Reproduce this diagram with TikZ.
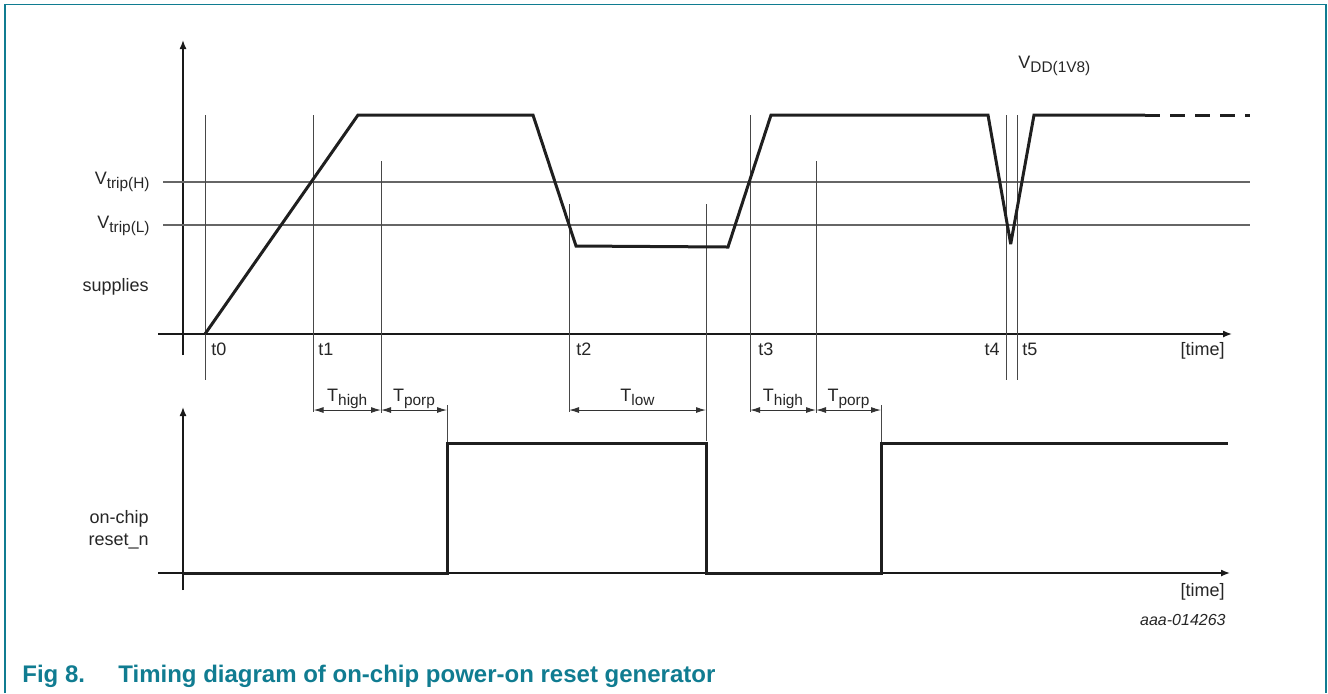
\documentclass[tikz,border=0pt]{standalone}
\usepackage{fontspec}
\setmainfont{Liberation Sans}
\usepackage{xcolor}
\usetikzlibrary{arrows.meta, positioning, calc}
\definecolor{nxpteal}{RGB}{16,124,145}
\newcommand{\lsub}[1]{\raisebox{-2.4pt}{\fontsize{7.7}{9}\selectfont #1}}

\begin{document}
\begin{tikzpicture}[x=0.5pt, y=-0.5pt,
   signal/.style={line width=1.5pt, black!88, line join=miter, miter limit=3},
   guide/.style={line width=0.5pt, black!72},
   level/.style={line width=0.6pt, black!60},
   axis/.style={line width=0.7pt, black!90, -{Latex[length=4.5pt, width=3.5pt]}},
   dim/.style={line width=0.5pt, black!80, {Latex[length=5pt, width=3pt]}-{Latex[length=5pt, width=3pt]}},
   lbl/.style={font=\fontsize{9}{11}\selectfont, inner sep=0pt, text=black!85},
   tlbl/.style={lbl, anchor=base, yshift=4.5pt},
   caption/.style={font=\fontsize{12}{14}\selectfont\bfseries, text=nxpteal, inner sep=0pt, anchor=base west}
]
   \useasboundingbox (0,0) rectangle (1328,693);

   % Frame
   \draw[nxpteal, line width=0.75pt] (5,693) -- (5,4.5) -- (1326,4.5) -- (1326,693);

   % Axes
   \coordinate (ya0) at (183,355);  \coordinate (ya1) at (183,40);
   \coordinate (xa0) at (158,334);  \coordinate (xa1) at (1232,334);
   \coordinate (yb0) at (183,590);  \coordinate (yb1) at (183,407);
   \coordinate (xb0) at (158,573);  \coordinate (xb1) at (1230,573);
   \draw[axis] (ya0) -- (ya1);
   \draw[axis] (xa0) -- (xa1);
   \draw[axis] (yb0) -- (yb1);
   \draw[axis] (xb0) -- (xb1);

   % Trip levels
   \coordinate (vh0) at (163,182);  \coordinate (vh1) at (1250,182);
   \coordinate (vl0) at (163,225);  \coordinate (vl1) at (1250,225);
   \draw[level] (vh0) -- (vh1);
   \draw[level] (vl0) -- (vl1);

   % Time marks
   \foreach \n/\x/\ya/\yb in {t0/205/115/380, t1/313.5/115/412, pa/381/161/413,
                              t2/569/204/412, lw/706/204/441, t3/750/115/412,
                              pb/816/161/413, t4/1006/115/380, t5/1017/115/380,
                              ra/447/405/443, rb/881/405/443} {
      \coordinate (\n-top) at (\x,\ya);
      \coordinate (\n-bot) at (\x,\yb);
      \draw[guide] (\n-top) -- (\n-bot);
   }

   % Supply voltage
   \coordinate (s0) at (205,334);   \coordinate (s1) at (358,115);
   \coordinate (s2) at (533,115);   \coordinate (s3) at (576,246);
   \coordinate (s4) at (728,247);   \coordinate (s5) at (771,115);
   \coordinate (s6) at (988,115);   \coordinate (s7) at (1010.7,244);
   \coordinate (s8) at (1034,115);  \coordinate (s9) at (1145,115);
   \coordinate (s10) at (1250,115);
   \draw[signal] (s0) -- (s1) -- (s2) -- (s3) -- (s4) -- (s5) -- (s6) -- (s7) -- (s8) -- (s9);
   \draw[signal, dash pattern=on 7.5pt off 5pt] (s9) -- (s10);

   % Reset output
   \coordinate (r0) at (183,573);   \coordinate (r1) at (447,573);
   \coordinate (r2) at (447,443);   \coordinate (r3) at (706,443);
   \coordinate (r4) at (706,573);   \coordinate (r5) at (881,573);
   \coordinate (r6) at (881,443);   \coordinate (r7) at (1228,443);
   \draw[signal] (r0) -- (r1) -- (r2) -- (r3) -- (r4) -- (r5) -- (r6) -- (r7);

   % Intervals
   \coordinate (dimy) at (0,410);
   \draw[dim] (t1-bot |- dimy) -- node[tlbl] {T\lsub{high}} (pa-bot |- dimy);
   \draw[dim] (pa-bot |- dimy) -- node[tlbl] {T\lsub{porp}} (ra-top |- dimy);
   \draw[dim] (t2-bot |- dimy) -- node[tlbl] {T\lsub{low}} (lw-bot |- dimy);
   \draw[dim] (t3-bot |- dimy) -- node[tlbl] {T\lsub{high}} (pb-bot |- dimy);
   \draw[dim] (pb-bot |- dimy) -- node[tlbl] {T\lsub{porp}} (rb-top |- dimy);

   % Labels
   \node[lbl, anchor=base east] (vhl) at (150,184) {V\lsub{trip(H)}};
   \node[lbl, anchor=base east] (vll) at (150,228) {V\lsub{trip(L)}};
   \node[lbl, anchor=base east] (sup) at (149,291) {supplies};
   \node[lbl, anchor=base east, align=right] (rst) at (149,545) {on-chip\\reset\_n};
   \node[lbl, anchor=base west] (vdd) at (1018,68) {V\lsub{DD(1V8)}};
   \node[lbl, anchor=base west] (lt0) at (211,355) {t0};
   \node[lbl, anchor=base west] (lt1) at (318,355) {t1};
   \node[lbl, anchor=base west] (lt2) at (576,355) {t2};
   \node[lbl, anchor=base west] (lt3) at (758,355) {t3};
   \node[lbl, anchor=base east] (lt4) at (1000,355) {t4};
   \node[lbl, anchor=base west] (lt5) at (1022,355) {t5};
   \node[lbl, anchor=base east] (tma) at (1225,355) {[time]};
   \node[lbl, anchor=base east] (tmb) at (1225,596) {[time]};
   \node[lbl, anchor=base east, font=\fontsize{8}{10}\selectfont\itshape] (ref) at (1226,625) {aaa-014263};

   % Caption
   \node[caption] (fig) at (22,682) {Fig 8.};
   \node[caption] (cap) at (118,682) {Timing diagram of on-chip power-on reset generator};
\end{tikzpicture}
\end{document}
